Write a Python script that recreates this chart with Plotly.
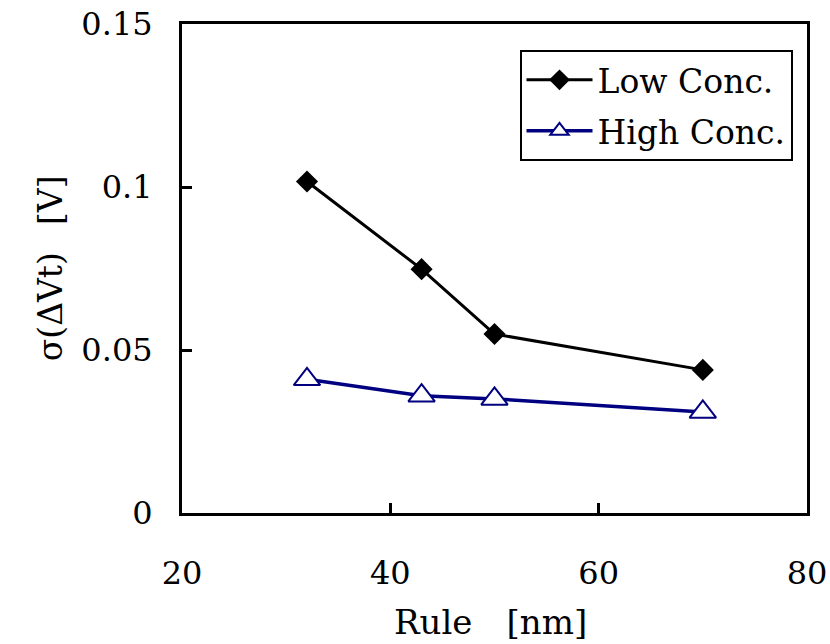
import plotly.graph_objects as go

rule = [32, 43, 50, 70]
low_conc = [0.1017, 0.0748, 0.0549, 0.0439]
high_conc = [0.0410, 0.0360, 0.0350, 0.0310]

x_ticks = [20, 40, 60, 80]
y_ticks = [0, 0.05, 0.1, 0.15]
y_tick_text = ["0", "0.05", "0.1", "0.15"]

FONT = "DejaVu Serif"
FS = 32

fig = go.Figure()
fig.add_trace(go.Scatter(
    x=rule, y=low_conc, name="Low Conc.", mode="lines+markers",
    legendgroup="a",
    line=dict(color="black", width=3),
    marker=dict(symbol="diamond", size=17, color="black"),
))
fig.add_trace(go.Scatter(
    x=rule, y=high_conc, name="High Conc.", mode="lines+markers",
    legendgroup="b",
    line=dict(color="#000080", width=3.5),
    marker=dict(symbol="triangle-up", size=23, color="white",
                line=dict(color="#000080", width=2)),
))

fig.update_layout(
    width=830, height=644,
    margin=dict(l=182, r=23, t=24, b=131),
    paper_bgcolor="white", plot_bgcolor="white",
    font=dict(family=FONT, size=FS, color="black"),
    showlegend=True,
    legend=dict(
        x=0.540, y=0.947, xanchor="left", yanchor="top",
        bgcolor="white", bordercolor="black", borderwidth=2,
        font=dict(family=FONT, size=33, color="black"),
        itemwidth=66, tracegroupgap=5,
    ),
    xaxis=dict(
        range=[20, 80], tickvals=x_ticks, ticks="inside", ticklen=10,
        tickwidth=3, tickcolor="black", automargin=False,
        ticklabeloverflow="allow",
        tickfont=dict(family=FONT, size=FS, color="black"),
        showline=True, linecolor="black", linewidth=3, mirror=True,
        showgrid=False, zeroline=False, ticklabelstandoff=30,
    ),
    yaxis=dict(
        range=[0, 0.15], tickvals=y_ticks, ticktext=y_tick_text,
        ticks="inside", ticklen=10, tickwidth=3, tickcolor="black",
        automargin=False, ticklabeloverflow="allow",
        tickfont=dict(family=FONT, size=FS, color="black"),
        showline=True, linecolor="black", linewidth=3, mirror=True,
        showgrid=False, zeroline=False, ticklabelstandoff=20,
    ),
    annotations=[
        dict(text="Rule\u2003[nm]", xref="paper", yref="paper",
             x=0.493, y=-0.223, xanchor="center", yanchor="middle",
             showarrow=False, font=dict(family=FONT, size=34, color="black")),
        dict(text="σ(ΔVt)\u2002 [V]", xref="paper", yref="paper",
             x=-0.210, y=0.5, xanchor="center", yanchor="middle", textangle=-90,
             showarrow=False, font=dict(family=FONT, size=33, color="black")),
    ],
)

fig.write_html(
    "out.html",
    config={"displayModeBar": False},
    post_script="document.body.style.margin='0';document.body.style.overflow='hidden';",
)
